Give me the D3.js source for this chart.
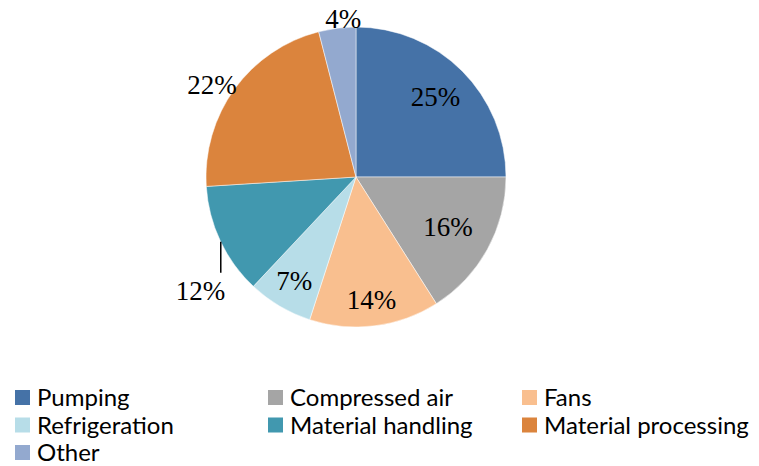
<!DOCTYPE html>
<html lang="en">
<head>
<meta charset="utf-8">
<script src="https://d3js.org/d3.v7.min.js"></script>
<style>
    body { margin: 0px; background: #fff; }
    .pct { font-family: "Liberation Serif", "Times New Roman", serif; font-size: 27px; fill: #000; }
    .leg { font-family: Lato, "Open Sans", sans-serif; font-size: 24px; fill: #000; }
</style>
</head>
<body>
<svg id="chart"></svg>
<script>
// Data
var categories = ["Pumping", "Compressed air", "Fans", "Refrigeration", "Material handling", "Material processing", "Other"];
var shares = [25, 16, 14, 7, 12, 22, 4];
var colors = ["#4572A7", "#A5A5A5", "#F9BF8F", "#B7DDE8", "#4198AF", "#DB843D", "#93A9CF"];

// Variables
var width = 759;
var height = 466;
var cx = 356, cy = 177;
var radius = 150;

// how far out the inside labels sit (fraction of radius), by slice index
var labelFrac = { 0: 0.75, 1: 0.70, 2: 0.83, 3: 0.81 };

var svg = d3.select("#chart")
    .attr("width", width)
    .attr("height", height);

var g = svg.append("g")
    .attr("transform", "translate(" + cx + "," + cy + ")");

var pie = d3.pie().sort(null).value(function (d) { return d; });
var arcs = pie(shares);

var arc = d3.arc().innerRadius(0).outerRadius(radius);

g.selectAll("path")
    .data(arcs)
    .enter().append("path")
    .attr("d", arc)
    .style("fill", function (d, i) { return colors[i]; })
    .style("stroke", "#fff")
    .style("stroke-width", 0.5);

// point at distance r along the middle of a slice
function rim(d, r) {
    var a = (d.startAngle + d.endAngle) / 2;
    return [Math.sin(a) * r, -Math.cos(a) * r];
}

// Labels: most sit inside, the narrow / left ones go outside
arcs.forEach(function (d, i) {
    var txt = d.data + "%";
    var t = g.append("text").attr("class", "pct").text(txt);
    var p;
    if (i === 5) {
        p = rim(d, radius);
        t.attr("x", p[0] + 2).attr("y", p[1] + 5).attr("text-anchor", "end");
    } else if (i === 6) {
        p = rim(d, radius);
        t.attr("x", p[0] + 6).attr("y", p[1]).attr("text-anchor", "middle");
    } else if (i === 4) {
        p = rim(d, radius);
        g.append("line")
            .attr("x1", p[0] + 0.5).attr("y1", p[1] + 1)
            .attr("x2", p[0] + 0.5).attr("y2", p[1] + 32)
            .style("stroke", "#000")
            .style("stroke-width", 1.5);
        t.attr("x", p[0] + 5).attr("y", p[1] + 59).attr("text-anchor", "end");
    } else {
        p = rim(d, radius * labelFrac[i]);
        t.attr("x", p[0]).attr("y", p[1]).attr("dy", "0.33em").attr("text-anchor", "middle");
    }
});

// Legend, three columns
var colX = [15, 268, 522];
var rowY = [390, 417.5, 445];
var leg = svg.selectAll("g.legend")
    .data(categories)
    .enter().append("g")
    .attr("class", "legend")
    .attr("transform", function (d, i) {
        return "translate(" + colX[i % 3] + "," + rowY[Math.floor(i / 3)] + ")";
    });

leg.append("rect")
    .attr("width", 15)
    .attr("height", 15)
    .style("fill", function (d, i) { return colors[i]; });

leg.append("text")
    .attr("class", "leg")
    .attr("x", 22)
    .attr("y", 16)
    .text(function (d) { return d; });
</script>
</body>
</html>
